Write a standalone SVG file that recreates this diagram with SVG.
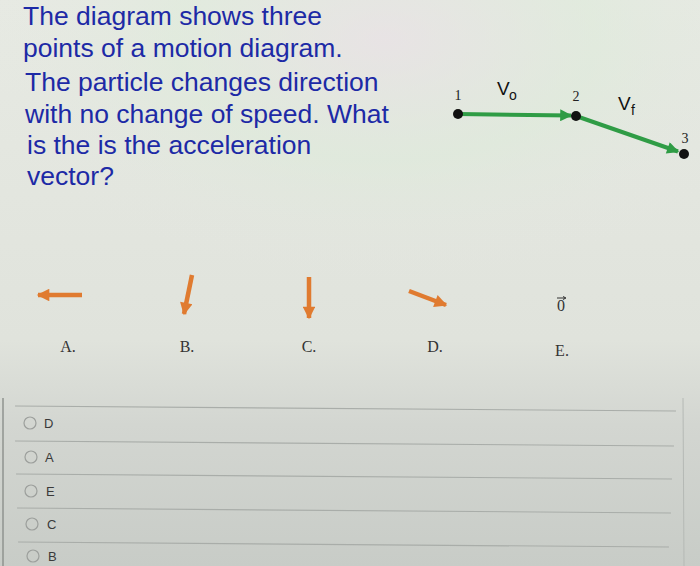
<svg xmlns="http://www.w3.org/2000/svg" width="700" height="566" viewBox="0 0 700 566">
<style>
.q{font-family:"Liberation Sans",Arial,sans-serif;font-size:26.5px;fill:#1d2aa6}
.num{font-family:"Liberation Serif","Times New Roman",serif;font-size:14px;fill:#222}
.v{font-family:"Liberation Sans",Arial,sans-serif;font-size:19px;fill:#111}
.sub{font-family:"Liberation Sans",Arial,sans-serif;font-size:14px;fill:#111}
.lab{font-family:"Liberation Serif","Times New Roman",serif;font-size:16px;fill:#333;text-anchor:middle}
.opt{font-family:"Liberation Sans",Arial,sans-serif;font-size:13px;fill:#3a3a3a}
.radio{fill:none;stroke:#9c9f9c;stroke-width:1.2}
.rule{stroke:#a9ada9;stroke-width:1.2}
.pt{fill:#111}
.vec{stroke:#2f9c45;stroke-width:4;fill:none}
.acc{stroke:#e07b30;stroke-width:4.5;fill:none}
</style>
<defs>
<linearGradient id="bg" x1="0" y1="0" x2="0" y2="1">
<stop offset="0" stop-color="#e7eae3"/>
<stop offset="0.6" stop-color="#e0e3dc"/>
<stop offset="0.75" stop-color="#d3d6d1"/>
<stop offset="1" stop-color="#c8ccc7"/>
</linearGradient>
<radialGradient id="moire" cx="0.55" cy="0.1" r="0.6">
<stop offset="0" stop-color="#e9dfe6" stop-opacity="0.6"/>
<stop offset="0.5" stop-color="#dcebd9" stop-opacity="0.5"/>
<stop offset="1" stop-color="#e6e6e3" stop-opacity="0"/>
</radialGradient>
<marker id="gHead" viewBox="0 0 10 10" refX="9" refY="5" markerWidth="3.2" markerHeight="3" orient="auto" markerUnits="strokeWidth">
<path d="M0,0 L10,5 L0,10 Z" fill="#2f9c45"/>
</marker>
<marker id="oHead" viewBox="0 0 10 10" refX="9" refY="5" markerWidth="3.3" markerHeight="2.8" orient="auto" markerUnits="strokeWidth">
<path d="M0,0 L10,5 L0,10 Z" fill="#e07b30"/>
</marker>
</defs>
<rect width="700" height="566" fill="url(#bg)"/>
<rect width="700" height="400" fill="url(#moire)"/>

<g id="question">
<text class="q" x="23" y="25">The diagram shows three</text>
<text class="q" x="23" y="57">points of a motion diagram.</text>
<text class="q" x="25" y="91">The particle changes direction</text>
<text class="q" x="25" y="123">with no change of speed. What</text>
<text class="q" x="27" y="154">is the is the acceleration</text>
<text class="q" x="27" y="185">vector?</text>
</g>

<g id="connectors">
<line class="vec" x1="458" y1="114" x2="571" y2="115.5" marker-end="url(#gHead)"/>
<line class="vec" x1="576" y1="116" x2="678" y2="151.5" marker-end="url(#gHead)"/>
</g>

<g id="point1">
<circle class="pt" cx="458" cy="114" r="5"/>
<text class="num" x="458" y="100" text-anchor="middle">1</text>
</g>
<g id="point2">
<circle class="pt" cx="576" cy="116" r="5"/>
<text class="num" x="576" y="101" text-anchor="middle">2</text>
</g>
<g id="point3">
<circle class="pt" cx="684" cy="154" r="5"/>
<text class="num" x="685" y="143" text-anchor="middle">3</text>
</g>
<g id="label-vo">
<text class="v" x="497" y="95">V</text><text class="sub" x="509" y="100">o</text>
</g>
<g id="label-vf">
<text class="v" x="618" y="110">V</text><text class="sub" x="631" y="115">f</text>
</g>

<g id="choiceA">
<line class="acc" x1="82" y1="295" x2="38" y2="295" marker-end="url(#oHead)"/>
<text class="lab" x="68" y="352">A.</text>
</g>
<g id="choiceB">
<line class="acc" x1="192" y1="275" x2="184" y2="314" marker-end="url(#oHead)"/>
<text class="lab" x="187" y="352">B.</text>
</g>
<g id="choiceC">
<line class="acc" x1="309" y1="277" x2="309" y2="318" marker-end="url(#oHead)"/>
<text class="lab" x="309" y="352">C.</text>
</g>
<g id="choiceD">
<line class="acc" x1="409" y1="291" x2="446" y2="305" marker-end="url(#oHead)"/>
<text class="lab" x="435" y="352">D.</text>
</g>
<g id="choiceE">
<text class="lab" x="561" y="311" font-size="15">0</text>
<line x1="557" y1="298" x2="565" y2="298" stroke="#333" stroke-width="1"/>
<path d="M563,296.5 L566,298 L563,299.5" fill="none" stroke="#333" stroke-width="1"/>
<text class="lab" x="562" y="356">E.</text>
</g>

<g id="answers">
<line x1="3" y1="398" x2="3" y2="566" stroke="#8f938f" stroke-width="1.5"/>
<line x1="683" y1="398" x2="684" y2="566" stroke="#b5b9b5" stroke-width="1"/>
<line class="rule" x1="15" y1="406" x2="676" y2="411"/>
<line class="rule" x1="15" y1="441" x2="674" y2="446"/>
<line class="rule" x1="16" y1="474" x2="672" y2="479"/>
<line class="rule" x1="17" y1="508" x2="671" y2="513"/>
<line class="rule" x1="18" y1="542" x2="669" y2="547"/>
</g>
<g id="optD"><circle class="radio" cx="30" cy="423" r="6"/><text class="opt" x="44" y="428">D</text></g>
<g id="optA"><circle class="radio" cx="31" cy="457" r="6"/><text class="opt" x="45" y="462">A</text></g>
<g id="optE"><circle class="radio" cx="31" cy="491" r="6"/><text class="opt" x="46" y="496">E</text></g>
<g id="optC"><circle class="radio" cx="32" cy="524" r="6"/><text class="opt" x="47" y="529">C</text></g>
<g id="optB"><circle class="radio" cx="33" cy="556" r="6"/><text class="opt" x="48" y="561">B</text></g>
</svg>
